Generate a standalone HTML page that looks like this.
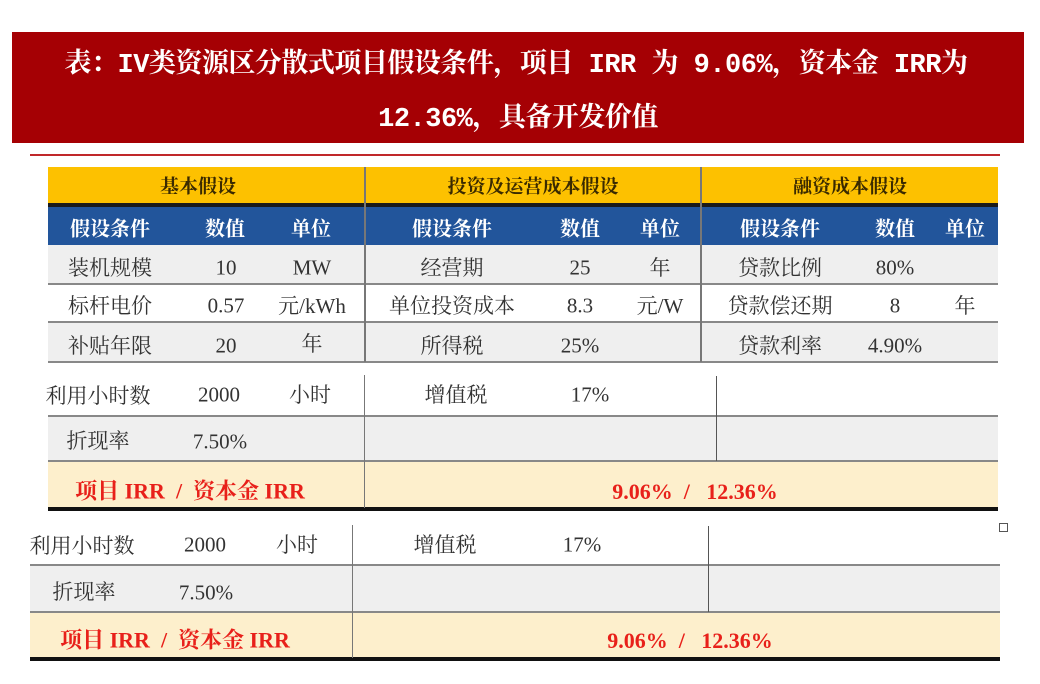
<!DOCTYPE html>
<html><head><meta charset="utf-8"><style>
body{margin:0;width:1040px;height:684px;background:#fff;position:relative;overflow:hidden;font-family:"Liberation Serif","Noto Serif CJK SC",serif;}
.a{position:absolute;}
.t{position:absolute;transform:translate(-50%,-50%);white-space:nowrap;font-size:21px;color:#333;}
.h{font-weight:bold;color:#3a2a00;font-size:19px;}
.w{font-weight:bold;color:#fff;font-size:20px;}
.r{color:#e8201a;font-weight:bold;font-size:22px;}
.ti{color:#fff;font-size:27px;font-weight:bold;font-family:'Liberation Mono','Noto Serif CJK SC',monospace;letter-spacing:-0.5px;}
</style></head><body>
<div class="a" style="left:12px;top:32px;width:1012px;height:111px;background:#a50004;"></div>
<div class="t ti" style="left:516px;top:61px;">表：IV类资源区分散式项目假设条件，项目 IRR 为 9.06%，资本金 IRR为</div>
<div class="t ti" style="left:518px;top:115px;">12.36%，具备开发价值</div>
<div class="a" style="left:30px;top:154px;width:970px;height:2px;background:#c0282a;"></div>

<!-- table 1 -->
<div class="a" style="left:48px;top:167px;width:950px;height:36px;background:#fdc100;"></div>
<div class="a" style="left:48px;top:203px;width:950px;height:4px;background:#1a1a1a;"></div>
<div class="a" style="left:48px;top:207px;width:950px;height:38px;background:#22559b;"></div>
<div class="a" style="left:48px;top:245px;width:950px;height:39px;background:#efefef;"></div>
<div class="a" style="left:48px;top:322px;width:950px;height:40px;background:#efefef;"></div>
<div class="a" style="left:48px;top:283px;width:950px;height:2px;background:#888;"></div>
<div class="a" style="left:48px;top:321px;width:950px;height:2px;background:#888;"></div>
<div class="a" style="left:48px;top:361px;width:950px;height:2px;background:#888;"></div>
<div class="a" style="left:364px;top:167px;width:2px;height:195px;background:#777;"></div>
<div class="a" style="left:700px;top:167px;width:2px;height:195px;background:#777;"></div>

<div class="a" style="left:48px;top:416px;width:950px;height:45px;background:#efefef;"></div>
<div class="a" style="left:48px;top:461px;width:950px;height:47px;background:#fdefcc;"></div>
<div class="a" style="left:48px;top:415px;width:950px;height:2px;background:#888;"></div>
<div class="a" style="left:48px;top:460px;width:950px;height:2px;background:#888;"></div>
<div class="a" style="left:48px;top:507px;width:950px;height:4px;background:#111;"></div>
<div class="a" style="left:364px;top:375px;width:1px;height:133px;background:#777;"></div>
<div class="a" style="left:716px;top:376px;width:1px;height:85px;background:#555;"></div>

<div class="t h" style="left:198px;top:185px;">基本假设</div>
<div class="t h" style="left:533px;top:185px;">投资及运营成本假设</div>
<div class="t h" style="left:850px;top:185px;">融资成本假设</div>
<div class="t w" style="left:110px;top:227px;">假设条件</div><div class="t w" style="left:225px;top:227px;">数值</div><div class="t w" style="left:311px;top:227px;">单位</div>
<div class="t w" style="left:452px;top:227px;">假设条件</div><div class="t w" style="left:580px;top:227px;">数值</div><div class="t w" style="left:660px;top:227px;">单位</div>
<div class="t w" style="left:780px;top:227px;">假设条件</div><div class="t w" style="left:895px;top:227px;">数值</div><div class="t w" style="left:965px;top:227px;">单位</div>

<div class="t" style="left:110px;top:267px;">装机规模</div><div class="t" style="left:226px;top:268px;">10</div><div class="t" style="left:312px;top:268px;">MW</div>
<div class="t" style="left:452px;top:267px;">经营期</div><div class="t" style="left:580px;top:268px;">25</div><div class="t" style="left:660px;top:267px;">年</div>
<div class="t" style="left:780px;top:267px;">贷款比例</div><div class="t" style="left:895px;top:268px;">80%</div>
<div class="t" style="left:110px;top:305px;">标杆电价</div><div class="t" style="left:226px;top:306px;">0.57</div><div class="t" style="left:312px;top:305px;">元/kWh</div>
<div class="t" style="left:452px;top:305px;">单位投资成本</div><div class="t" style="left:580px;top:306px;">8.3</div><div class="t" style="left:660px;top:305px;">元/W</div>
<div class="t" style="left:780px;top:305px;">贷款偿还期</div><div class="t" style="left:895px;top:306px;">8</div><div class="t" style="left:965px;top:305px;">年</div>
<div class="t" style="left:110px;top:345px;">补贴年限</div><div class="t" style="left:226px;top:346px;">20</div><div class="t" style="left:312px;top:343px;">年</div>
<div class="t" style="left:452px;top:345px;">所得税</div><div class="t" style="left:580px;top:346px;">25%</div>
<div class="t" style="left:780px;top:345px;">贷款利率</div><div class="t" style="left:895px;top:346px;">4.90%</div>

<div class="t" style="left:98px;top:395px;">利用小时数</div><div class="t" style="left:219px;top:395px;">2000</div><div class="t" style="left:310px;top:394px;">小时</div>
<div class="t" style="left:456px;top:394px;">增值税</div><div class="t" style="left:590px;top:395px;">17%</div>
<div class="t" style="left:98px;top:440px;">折现率</div><div class="t" style="left:220px;top:442px;">7.50%</div>
<div class="t r" style="left:190px;top:490px;">项目 IRR &nbsp;/&nbsp; 资本金 IRR</div>
<div class="t r" style="left:695px;top:492px;">9.06% &nbsp;/&nbsp;&nbsp; 12.36%</div>

<!-- table 2 -->
<div class="a" style="left:30px;top:564px;width:970px;height:2px;background:#888;"></div>
<div class="a" style="left:30px;top:566px;width:970px;height:45px;background:#efefef;"></div>
<div class="a" style="left:30px;top:611px;width:970px;height:2px;background:#888;"></div>
<div class="a" style="left:30px;top:613px;width:970px;height:45px;background:#fdefcc;"></div>
<div class="a" style="left:30px;top:657px;width:970px;height:4px;background:#111;"></div>
<div class="a" style="left:352px;top:525px;width:1px;height:133px;background:#777;"></div>
<div class="a" style="left:708px;top:526px;width:1px;height:86px;background:#555;"></div>
<div class="a" style="left:999px;top:523px;width:7px;height:7px;border:1px solid #555;"></div>

<div class="t" style="left:82px;top:545px;">利用小时数</div><div class="t" style="left:205px;top:545px;">2000</div><div class="t" style="left:297px;top:544px;">小时</div>
<div class="t" style="left:445px;top:544px;">增值税</div><div class="t" style="left:582px;top:545px;">17%</div>
<div class="t" style="left:84px;top:591px;">折现率</div><div class="t" style="left:206px;top:593px;">7.50%</div>
<div class="t r" style="left:175px;top:639px;">项目 IRR &nbsp;/&nbsp; 资本金 IRR</div>
<div class="t r" style="left:690px;top:641px;">9.06% &nbsp;/&nbsp;&nbsp; 12.36%</div>
</body></html>
